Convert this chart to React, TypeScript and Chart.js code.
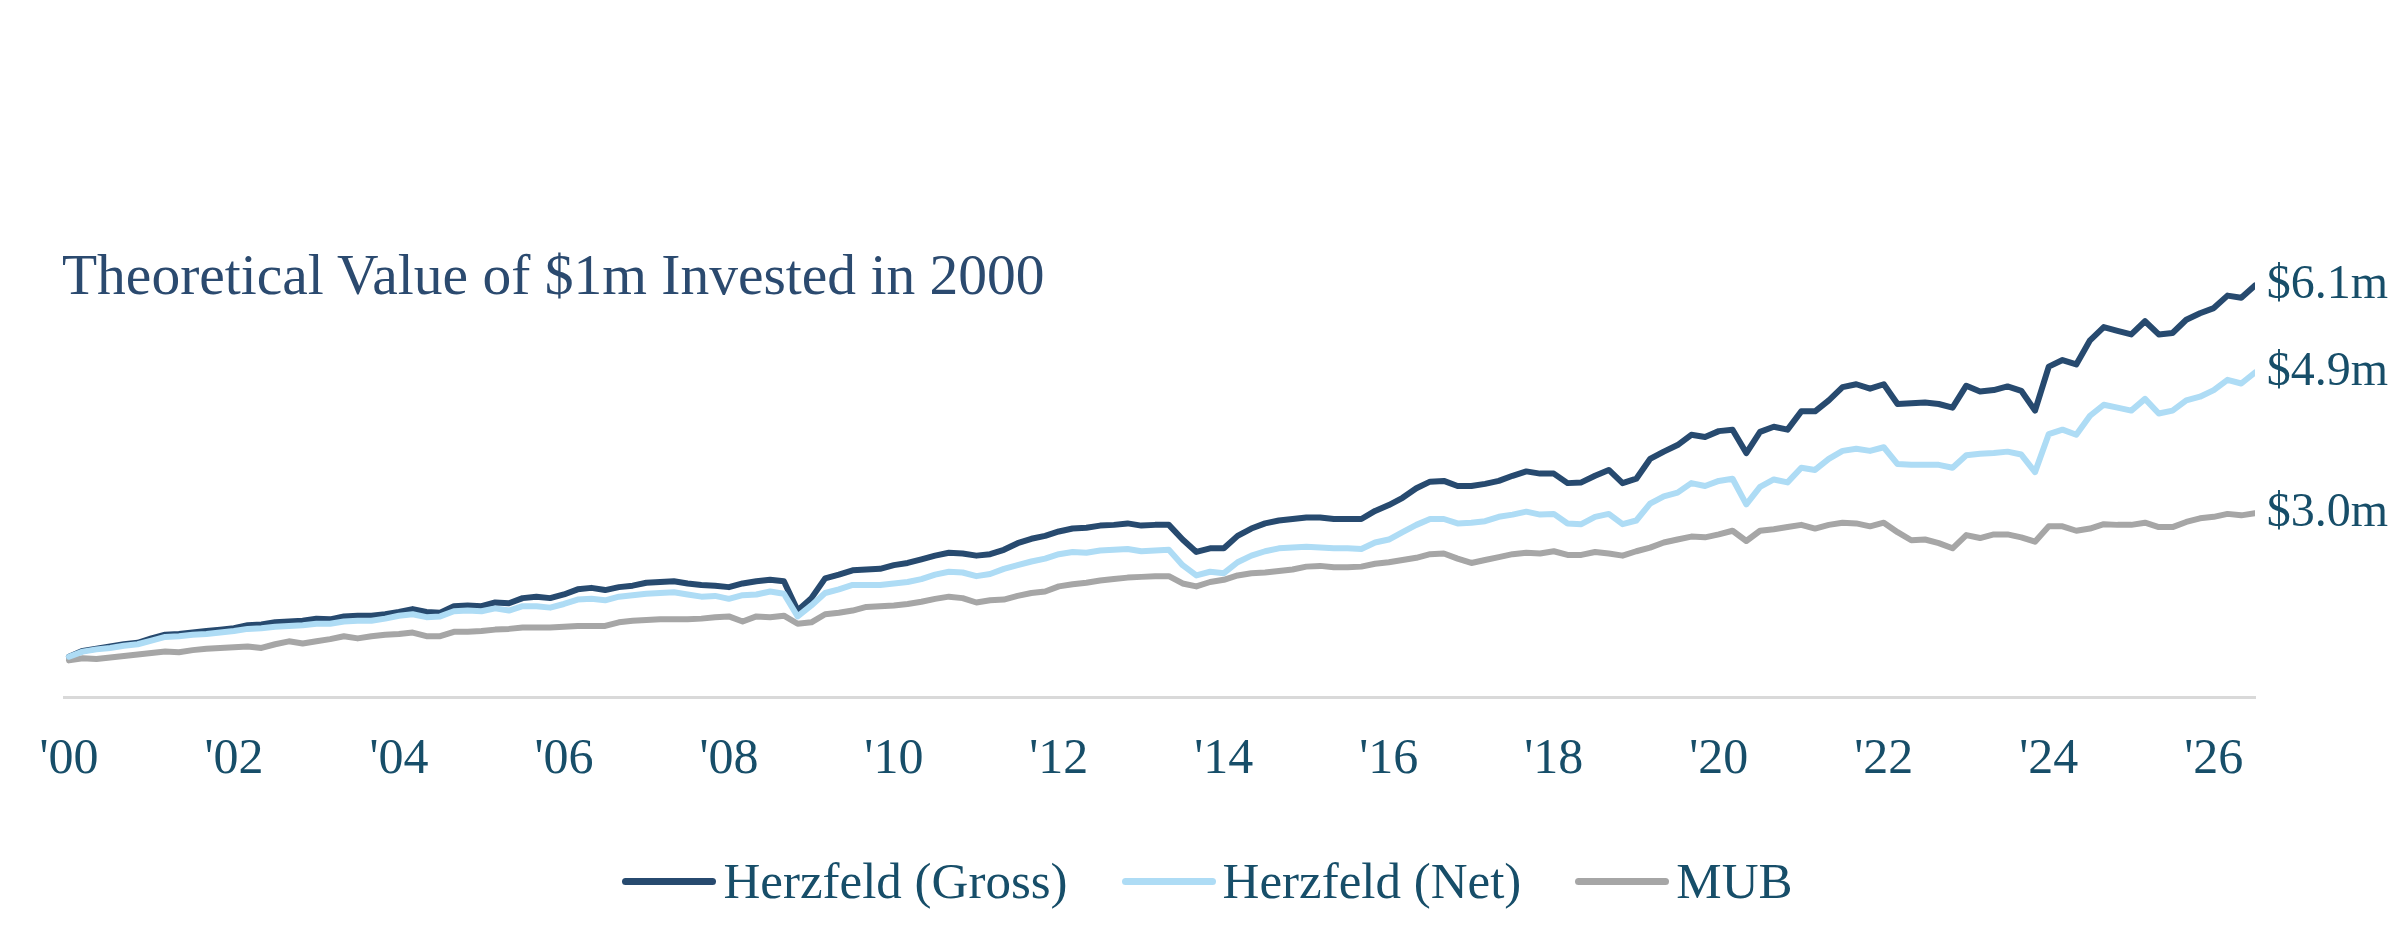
import { useEffect, useRef } from "react";
import { Chart, registerables } from "chart.js";

Chart.register(...registerables);

// ─── Data (bi-monthly observations, $m value of $1m invested Jan 2000) ───
const YEARS = [
  2000, 2001, 2002, 2003, 2004, 2005, 2006, 2007, 2008, 2009, 2010, 2011, 2012, 2013,
  2014, 2015, 2016, 2017, 2018, 2019, 2020, 2021, 2022, 2023, 2024, 2025, 2026,
];
const MONTHS = [1, 3, 5, 7, 9, 11];
const LAST_YEAR = 2026;
const LAST_MONTH = 7; // series stop in July 2026

const GROSS = [
  1.00, 1.08, 1.11, 1.14, 1.17, 1.19, // 2000
  1.25, 1.30, 1.31, 1.33, 1.35, 1.37, // 2001
  1.39, 1.43, 1.44, 1.47, 1.48, 1.49, // 2002
  1.52, 1.51, 1.55, 1.56, 1.56, 1.58, // 2003
  1.61, 1.65, 1.61, 1.60, 1.69, 1.70, // 2004
  1.69, 1.74, 1.73, 1.80, 1.82, 1.80, // 2005
  1.85, 1.92, 1.94, 1.91, 1.95, 1.97, // 2006
  2.01, 2.02, 2.03, 2.00, 1.98, 1.97, // 2007
  1.95, 2.00, 2.03, 2.05, 2.03, 1.63, // 2008
  1.80, 2.07, 2.12, 2.18, 2.19, 2.20, // 2009
  2.25, 2.28, 2.33, 2.38, 2.42, 2.41, // 2010
  2.38, 2.40, 2.46, 2.55, 2.61, 2.65, // 2011
  2.71, 2.75, 2.76, 2.79, 2.80, 2.82, // 2012
  2.79, 2.80, 2.80, 2.60, 2.43, 2.48, // 2013
  2.48, 2.65, 2.75, 2.82, 2.86, 2.88, // 2014
  2.90, 2.90, 2.88, 2.88, 2.88, 2.99, // 2015
  3.07, 3.17, 3.30, 3.39, 3.40, 3.33, // 2016
  3.33, 3.36, 3.40, 3.47, 3.53, 3.50, // 2017
  3.50, 3.37, 3.38, 3.47, 3.55, 3.37, // 2018
  3.43, 3.70, 3.80, 3.89, 4.03, 4.00, // 2019
  4.08, 4.10, 3.78, 4.07, 4.14, 4.10, // 2020
  4.35, 4.35, 4.50, 4.68, 4.72, 4.66, // 2021
  4.72, 4.45, 4.46, 4.47, 4.45, 4.40, // 2022
  4.70, 4.62, 4.64, 4.69, 4.63, 4.36, // 2023
  4.96, 5.05, 4.99, 5.32, 5.50, 5.45, // 2024
  5.40, 5.58, 5.40, 5.42, 5.60, 5.69, // 2025
  5.76, 5.93, 5.90, 6.07, // 2026
];

const NET = [
  1.00, 1.07, 1.10, 1.12, 1.15, 1.17, // 2000
  1.22, 1.27, 1.28, 1.30, 1.31, 1.33, // 2001
  1.35, 1.38, 1.39, 1.41, 1.42, 1.43, // 2002
  1.45, 1.45, 1.48, 1.49, 1.49, 1.52, // 2003
  1.56, 1.58, 1.54, 1.55, 1.62, 1.63, // 2004
  1.62, 1.66, 1.63, 1.69, 1.69, 1.67, // 2005
  1.72, 1.78, 1.79, 1.77, 1.82, 1.84, // 2006
  1.86, 1.87, 1.88, 1.85, 1.82, 1.83, // 2007
  1.79, 1.84, 1.85, 1.89, 1.86, 1.55, // 2008
  1.70, 1.87, 1.92, 1.98, 1.98, 1.98, // 2009
  2.00, 2.02, 2.06, 2.12, 2.16, 2.15, // 2010
  2.10, 2.13, 2.20, 2.25, 2.30, 2.34, // 2011
  2.40, 2.43, 2.42, 2.45, 2.46, 2.47, // 2012
  2.44, 2.45, 2.46, 2.25, 2.11, 2.16, // 2013
  2.14, 2.29, 2.38, 2.44, 2.48, 2.49, // 2014
  2.50, 2.49, 2.48, 2.48, 2.47, 2.56, // 2015
  2.60, 2.70, 2.80, 2.88, 2.88, 2.82, // 2016
  2.83, 2.85, 2.91, 2.94, 2.98, 2.94, // 2017
  2.95, 2.82, 2.81, 2.91, 2.95, 2.81, // 2018
  2.86, 3.09, 3.19, 3.24, 3.37, 3.33, // 2019
  3.40, 3.43, 3.08, 3.32, 3.42, 3.38, // 2020
  3.58, 3.55, 3.70, 3.81, 3.84, 3.81, // 2021
  3.86, 3.63, 3.62, 3.62, 3.62, 3.58, // 2022
  3.75, 3.77, 3.78, 3.80, 3.76, 3.52, // 2023
  4.04, 4.10, 4.03, 4.29, 4.44, 4.40, // 2024
  4.36, 4.52, 4.32, 4.36, 4.50, 4.55, // 2025
  4.64, 4.78, 4.73, 4.88, // 2026
];

const MUB = [
  0.95, 0.98, 0.97, 0.99, 1.01, 1.03, // 2000
  1.05, 1.07, 1.06, 1.09, 1.11, 1.12, // 2001
  1.13, 1.14, 1.12, 1.17, 1.21, 1.18, // 2002
  1.21, 1.24, 1.28, 1.25, 1.28, 1.30, // 2003
  1.31, 1.33, 1.28, 1.28, 1.34, 1.34, // 2004
  1.35, 1.37, 1.38, 1.40, 1.40, 1.40, // 2005
  1.41, 1.42, 1.42, 1.42, 1.47, 1.49, // 2006
  1.50, 1.51, 1.51, 1.51, 1.52, 1.54, // 2007
  1.55, 1.48, 1.55, 1.54, 1.56, 1.45, // 2008
  1.47, 1.58, 1.60, 1.63, 1.68, 1.69, // 2009
  1.70, 1.72, 1.75, 1.79, 1.82, 1.80, // 2010
  1.74, 1.77, 1.78, 1.83, 1.87, 1.89, // 2011
  1.96, 1.99, 2.01, 2.04, 2.06, 2.08, // 2012
  2.09, 2.10, 2.10, 2.00, 1.96, 2.02, // 2013
  2.05, 2.11, 2.14, 2.15, 2.17, 2.19, // 2014
  2.23, 2.24, 2.22, 2.22, 2.23, 2.27, // 2015
  2.29, 2.32, 2.35, 2.40, 2.41, 2.34, // 2016
  2.28, 2.32, 2.36, 2.40, 2.42, 2.41, // 2017
  2.44, 2.39, 2.39, 2.43, 2.41, 2.38, // 2018
  2.44, 2.49, 2.56, 2.60, 2.64, 2.63, // 2019
  2.67, 2.72, 2.58, 2.72, 2.74, 2.77, // 2020
  2.80, 2.75, 2.80, 2.83, 2.82, 2.78, // 2021
  2.83, 2.70, 2.59, 2.60, 2.55, 2.48, // 2022
  2.66, 2.62, 2.67, 2.67, 2.63, 2.57, // 2023
  2.78, 2.78, 2.72, 2.75, 2.81, 2.80, // 2024
  2.80, 2.83, 2.77, 2.77, 2.84, 2.89, // 2025
  2.91, 2.95, 2.93, 2.96, // 2026
];

const TICK_YEARS = [2000, 2002, 2004, 2006, 2008, 2010, 2012, 2014, 2016, 2018, 2020, 2022, 2024, 2026];
const TICK_LABELS = ["'00", "'02", "'04", "'06", "'08", "'10", "'12", "'14", "'16", "'18", "'20", "'22", "'24", "'26"];

const SERIES_NAMES = ["Herzfeld (Gross)", "Herzfeld (Net)", "MUB"];
const END_LABELS = ["$6.1m", "$4.9m", "$3.0m"];
const TITLE = "Theoretical Value of $1m Invested in 2000";

// ─── Styling ─────────────────────────────────────────────────────
const COLORS = ["#274a6f", "#aedcf5", "#a6a6a6"];
const TEXT = "#174e69";
const TITLE_COLOR = "#2b4a6f";
const FONT = '"Liberation Serif", "Times New Roman", serif';

// decimal-year position of each observation
const DATES = YEARS.flatMap((y) =>
  MONTHS.filter((m) => y < LAST_YEAR || m <= LAST_MONTH).map((m) => y + (m - 1) / 12)
);

const endLabelsPlugin = {
  id: "endLabels",
  afterDatasetsDraw(chart: Chart) {
    const { ctx, chartArea } = chart;
    ctx.save();
    ctx.font = `48px ${FONT}`;
    ctx.fillStyle = TEXT;
    ctx.textAlign = "right";
    ctx.textBaseline = "middle";
    chart.data.datasets.forEach((_, i) => {
      const meta = chart.getDatasetMeta(i);
      const last = meta.data[meta.data.length - 1];
      if (!last) return;
      ctx.fillText(END_LABELS[i], chartArea.right + 133, last.y);
    });
    ctx.restore();
  },
};

function ValueChart() {
  const canvasRef = useRef<HTMLCanvasElement>(null);
  const chartRef = useRef<Chart | null>(null);

  useEffect(() => {
    if (!canvasRef.current) return;
    const series = [GROSS, NET, MUB];
    // net drawn on top of gross, as in the reference
    const drawOrder = [3, 1, 2];

    chartRef.current?.destroy();
    chartRef.current = new Chart(canvasRef.current, {
      type: "line",
      plugins: [endLabelsPlugin],
      data: {
        datasets: series.map((values, i) => ({
          label: SERIES_NAMES[i],
          data: values.map((v, j) => ({ x: DATES[j], y: v })),
          borderColor: COLORS[i],
          backgroundColor: COLORS[i],
          borderWidth: 6,
          borderCapStyle: "round" as const,
          borderJoinStyle: "round" as const,
          pointRadius: 0,
          tension: 0,
          fill: false,
          order: drawOrder[i],
        })),
      },
      options: {
        animation: false,
        responsive: true,
        maintainAspectRatio: false,
        events: [],
        layout: { padding: { top: 144, bottom: 134, left: 64, right: 148 } },
        plugins: {
          legend: { display: false },
          title: { display: false },
          tooltip: { enabled: false },
        },
        scales: {
          x: {
            type: "linear",
            min: 1999.94,
            max: 2026.5,
            grid: { display: false, drawTicks: false },
            border: { display: true, color: "#d9d9d9", width: 3 },
            afterBuildTicks: (scale) => {
              scale.ticks = TICK_YEARS.map((v) => ({ value: v }));
            },
            afterFit: (scale) => {
              scale.height = 100;
            },
            ticks: {
              autoSkip: false,
              maxRotation: 0,
              padding: 38,
              color: TEXT,
              font: { family: FONT, size: 50, lineHeight: 1 },
              callback: (v) => TICK_LABELS[TICK_YEARS.indexOf(Number(v))] ?? "",
            },
          },
          y: {
            type: "linear",
            display: false,
            min: 0.45,
            max: 8,
          },
        },
      },
    });
    return () => chartRef.current?.destroy();
  }, []);

  return <canvas ref={canvasRef} />;
}

export default function App() {
  return (
    <div
      style={{
        position: "fixed",
        left: 0,
        top: 0,
        width: "100vw",
        height: "100vh",
        background: "#ffffff",
        overflow: "hidden",
      }}
    >
      <div style={{ position: "absolute", inset: 0 }}>
        <ValueChart />
      </div>
      <div
        style={{
          position: "absolute",
          left: 62,
          top: 246,
          font: `57.5px ${FONT}`,
          lineHeight: "57px",
          color: TITLE_COLOR,
          whiteSpace: "nowrap",
        }}
      >
        {TITLE}
      </div>
      <div
        style={{
          position: "absolute",
          left: 12,
          width: 2391,
          top: 856,
          display: "flex",
          justifyContent: "center",
          alignItems: "center",
          font: `51px ${FONT}`,
          lineHeight: "51px",
          color: TEXT,
          whiteSpace: "nowrap",
        }}
      >
        {SERIES_NAMES.map((name, i) => (
          <div
            key={name}
            style={{
              display: "flex",
              alignItems: "center",
              marginLeft: i === 0 ? 0 : 54,
            }}
          >
            <span
              style={{
                display: "inline-block",
                width: 94,
                height: 7,
                borderRadius: 4,
                background: COLORS[i],
                marginRight: 7,
              }}
            />
            <span>{name}</span>
          </div>
        ))}
      </div>
    </div>
  );
}
